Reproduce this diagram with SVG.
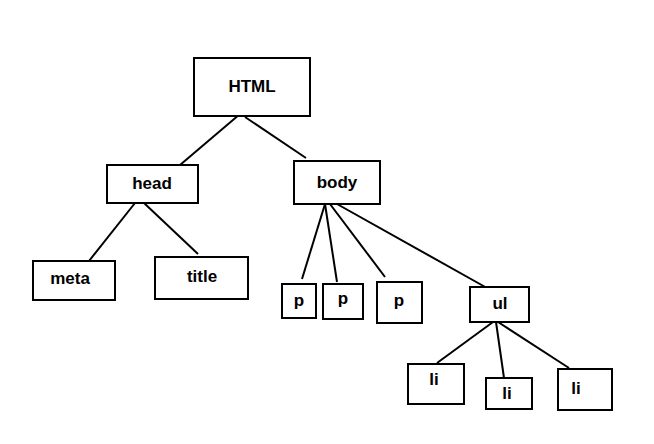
<svg xmlns="http://www.w3.org/2000/svg" width="654" height="444" viewBox="0 0 654 444">
<style>
.box{fill:#fff;stroke:#000;stroke-width:2}
.lbl{font-family:"Liberation Sans",Arial,sans-serif;font-weight:bold;font-size:17px;text-anchor:middle;fill:#000}
.con line{stroke:#000;stroke-width:2}
</style>
<rect width="654" height="444" fill="#fff"/>
<g class="con" id="connectors">
<line x1="240" y1="114" x2="180" y2="165"/>
<line x1="245" y1="117" x2="306" y2="158"/>
<line x1="135" y1="203" x2="89" y2="261"/>
<line x1="144" y1="203" x2="198" y2="254"/>
<line x1="325" y1="204" x2="302" y2="279"/>
<line x1="325" y1="204" x2="337" y2="282"/>
<line x1="330" y1="204" x2="385" y2="277"/>
<line x1="337" y1="204" x2="487" y2="288"/>
<line x1="493" y1="322" x2="437" y2="363"/>
<line x1="496" y1="322" x2="504" y2="378"/>
<line x1="498" y1="322" x2="569" y2="368"/>
</g>
<g id="html"><rect class="box" x="194" y="58" width="116" height="58"/><text class="lbl" x="252" y="92">HTML</text></g>
<g id="head"><rect class="box" x="107" y="165" width="91" height="38"/><text class="lbl" x="152" y="189">head</text></g>
<g id="body"><rect class="box" x="294" y="161" width="86" height="43"/><text class="lbl" x="337" y="188">body</text></g>
<g id="meta"><rect class="box" x="33" y="261" width="82" height="39"/><text class="lbl" x="70" y="284">meta</text></g>
<g id="title"><rect class="box" x="155" y="257" width="93" height="42"/><text class="lbl" x="202" y="282">title</text></g>
<g id="p1"><rect class="box" x="282" y="284" width="34" height="34"/><text class="lbl" x="299" y="306">p</text></g>
<g id="p2"><rect class="box" x="323" y="284" width="40" height="35"/><text class="lbl" x="343" y="304">p</text></g>
<g id="p3"><rect class="box" x="377" y="282" width="45" height="41"/><text class="lbl" x="399" y="306">p</text></g>
<g id="ul"><rect class="box" x="470" y="287" width="59" height="35"/><text class="lbl" x="500" y="309">ul</text></g>
<g id="li1"><rect class="box" x="408" y="364" width="56" height="40"/><text class="lbl" x="434" y="385">li</text></g>
<g id="li2"><rect class="box" x="486" y="378" width="46" height="31"/><text class="lbl" x="507" y="399">li</text></g>
<g id="li3"><rect class="box" x="558" y="369" width="54" height="41"/><text class="lbl" x="576" y="394">li</text></g>
</svg>
